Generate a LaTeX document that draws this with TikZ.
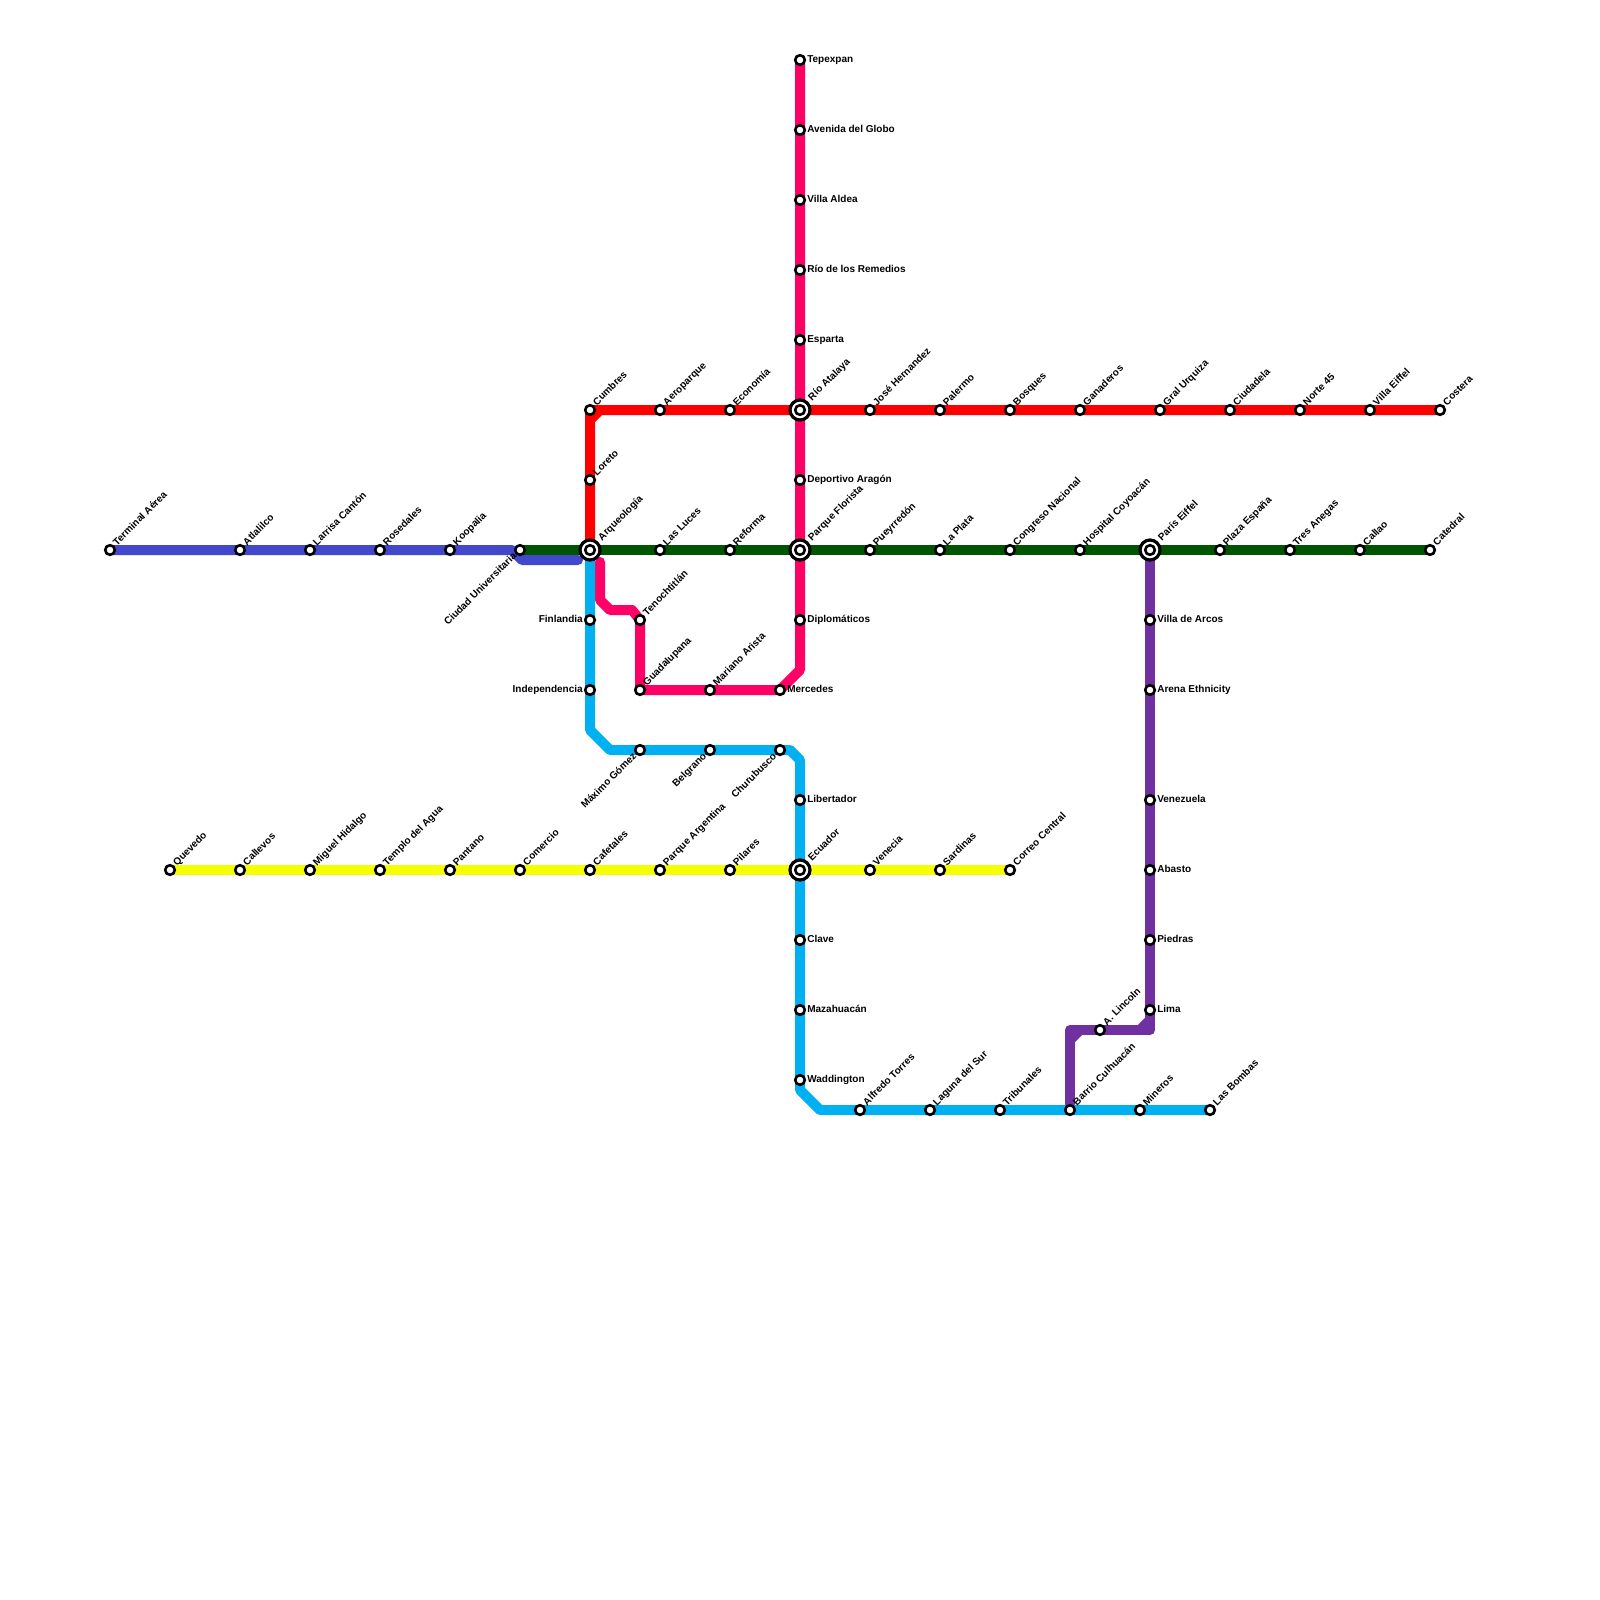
\documentclass[tikz,border=0pt]{standalone}
\usepackage{fontspec}
\setmainfont{Liberation Sans}
\usetikzlibrary{backgrounds}
\definecolor{lred}{HTML}{FF0000}
\definecolor{lpink}{HTML}{FF0066}
\definecolor{lgreen}{HTML}{005500}
\definecolor{lblue}{HTML}{4248CC}
\definecolor{lcyan}{HTML}{00B0F0}
\definecolor{lyellow}{HTML}{F5FF00}
\definecolor{lpurple}{HTML}{7030A0}
\tikzset{
  stn/.style={circle,draw=black,fill=white,line width=2.6pt,minimum size=9.6pt,inner sep=0pt,outer sep=0pt},
  xch/.style={circle,draw=black,fill=white,line width=3.2pt,minimum size=20pt,inner sep=0pt,outer sep=0pt},
  lbl/.style={inner sep=0pt,outer sep=0pt,text=black,font=\fontsize{10}{12}\selectfont\bfseries},
  metro/.style={line width=10pt,line cap=round,line join=round}
}
% name, x, y, label
\newcommand\stNE[4]{\node[stn] (#1) at (#2,#3) {}; \node[lbl,rotate=45,anchor=base west] (#1t) at (#2+7,#3-4) {#4};}
\newcommand\stE[4]{\node[stn] (#1) at (#2,#3) {}; \node[lbl,anchor=base west] (#1t) at (#2+7.3,#3+2.6) {#4};}
\newcommand\stW[4]{\node[stn] (#1) at (#2,#3) {}; \node[lbl,anchor=base east] (#1t) at (#2-7.3,#3+2.6) {#4};}
\newcommand\stSW[4]{\node[stn] (#1) at (#2,#3) {}; \node[lbl,rotate=45,anchor=base east] (#1t) at (#2-3,#3+7) {#4};}
\newcommand\stX[4]{\node[xch] (#1o) at (#2,#3) {}; \node[stn] (#1) at (#2,#3) {}; \node[lbl,rotate=45,anchor=base west] (#1t) at (#2+12,#3-9) {#4};}
\begin{document}
\begin{tikzpicture}[x=1pt,y=-1pt]
\useasboundingbox (0,0) rectangle (1600,1600);
% interchanges
\stX{arq}{590}{550}{Arqueología}
\stX{par}{800}{550}{Parque Florista}
\stX{rio}{800}{410}{Río Atalaya}
\stX{ecu}{800}{870}{Ecuador}
\stX{eif}{1150}{550}{París Eiffel}
% pink line
\stE{tep}{800}{60}{Tepexpan}
\stE{ave}{800}{130}{Avenida del Globo}
\stE{ald}{800}{200}{Villa Aldea}
\stE{rem}{800}{270}{Río de los Remedios}
\stE{esp}{800}{340}{Esparta}
\stE{dep}{800}{480}{Deportivo Aragón}
\stE{dip}{800}{620}{Diplomáticos}
\stE{mer}{780}{690}{Mercedes}
\stNE{mar}{710}{690}{Mariano Arista}
\stNE{gua}{640}{690}{Guadalupana}
\stNE{ten}{640}{620}{Tenochtitlán}
% red line
\stNE{cum}{590}{410}{Cumbres}
\stNE{lor}{590}{480}{Loreto}
\stNE{aer}{660}{410}{Aeroparque}
\stNE{eco}{730}{410}{Economía}
\stNE{jos}{870}{410}{José Hernandez}
\stNE{pal}{940}{410}{Palermo}
\stNE{bos}{1010}{410}{Bosques}
\stNE{gan}{1080}{410}{Ganaderos}
\stNE{gra}{1160}{410}{Gral Urquiza}
\stNE{ciu}{1230}{410}{Ciudadela}
\stNE{nor}{1300}{410}{Norte 45}
\stNE{vil}{1370}{410}{Villa Eiffel}
\stNE{cos}{1440}{410}{Costera}
% blue line
\stNE{ter}{110}{550}{Terminal Aérea}
\stNE{atl}{240}{550}{Atlalilco}
\stNE{lar}{310}{550}{Larrisa Cantón}
\stNE{ros}{380}{550}{Rosedales}
\stNE{koo}{450}{550}{Koopalia}
\stSW{cun}{520}{550}{Ciudad Universitaria}
% green line
\stNE{luc}{660}{550}{Las Luces}
\stNE{ref}{730}{550}{Reforma}
\stNE{pue}{870}{550}{Pueyrredón}
\stNE{pla}{940}{550}{La Plata}
\stNE{con}{1010}{550}{Congreso Nacional}
\stNE{hos}{1080}{550}{Hospital Coyoacán}
\stNE{esa}{1220}{550}{Plaza España}
\stNE{tre}{1290}{550}{Tres Anegas}
\stNE{cal}{1360}{550}{Callao}
\stNE{cat}{1430}{550}{Catedral}
% cyan line
\stW{fin}{590}{620}{Finlandia}
\stW{ind}{590}{690}{Independencia}
\stSW{max}{640}{750}{Máximo Gómez}
\stSW{bel}{710}{750}{Belgrano}
\stSW{chu}{780}{750}{Churubusco}
\stE{lib}{800}{800}{Libertador}
\stE{cla}{800}{940}{Clave}
\stE{maz}{800}{1010}{Mazahuacán}
\stE{wad}{800}{1080}{Waddington}
\stNE{alf}{860}{1110}{Alfredo Torres}
\stNE{lag}{930}{1110}{Laguna del Sur}
\stNE{tri}{1000}{1110}{Tribunales}
\stNE{bar}{1070}{1110}{Barrio Culhuacán}
\stNE{min}{1140}{1110}{Mineros}
\stNE{bom}{1210}{1110}{Las Bombas}
% yellow line
\stNE{que}{170}{870}{Quevedo}
\stNE{cav}{240}{870}{Callevos}
\stNE{mig}{310}{870}{Miguel Hidalgo}
\stNE{tem}{380}{870}{Templo del Agua}
\stNE{pan}{450}{870}{Pantano}
\stNE{com}{520}{870}{Comercio}
\stNE{caf}{590}{870}{Cafetales}
\stNE{pag}{660}{870}{Parque Argentina}
\stNE{pil}{730}{870}{Pilares}
\stNE{ven}{870}{870}{Venecia}
\stNE{sar}{940}{870}{Sardinas}
\stNE{cor}{1010}{870}{Correo Central}
% purple line
\stE{arc}{1150}{620}{Villa de Arcos}
\stE{are}{1150}{690}{Arena Ethnicity}
\stE{vnz}{1150}{800}{Venezuela}
\stE{aba}{1150}{870}{Abasto}
\stE{pie}{1150}{940}{Piedras}
\stE{lim}{1150}{1010}{Lima}
\stNE{lin}{1100}{1030}{A. Lincoln}
% bend points
\coordinate (r1) at (590,420); \coordinate (r2) at (600,410);
\coordinate (r0) at (590,410);
\coordinate (b1) at (512,550); \coordinate (b2) at (522,560); \coordinate (b3) at (578,560);
\coordinate (p0) at (600,562); \coordinate (p1) at (600,600); \coordinate (p2) at (610,610);
\coordinate (p3) at (632,610); \coordinate (p4) at (800,670);
\coordinate (c1) at (590,730); \coordinate (c2) at (610,750); \coordinate (c3) at (790,750);
\coordinate (c4) at (800,760); \coordinate (c5) at (800,1090); \coordinate (c6) at (820,1110);
\coordinate (u1) at (1150,1020); \coordinate (u2) at (1150,1030); \coordinate (u3) at (1140,1030);
\coordinate (u4) at (1080,1030); \coordinate (u5) at (1070,1030); \coordinate (u6) at (1070,1040);
\coordinate (u7) at (1070,1104);
\begin{pgfonlayer}{background}
\fill[white] (0,0) rectangle (1600,1600);
\draw[metro,lpink] (tep.center) -- (par.center) -- (p4) -- (mer.center) -- (gua.center) -- (ten.center) -- (p3) -- (p2) -- (p1) -- (p0);
\draw[metro,lred] (arq.center) -- (r1) -- (r2) -- (cos.center);
\draw[metro,lred] (r1) -- (r0) -- (r2);
\draw[metro,lpurple] (eif.center) -- (u2) -- (u5) -- (u7);
\draw[metro,lpurple,line cap=butt] (u1) -- (u3);
\draw[metro,lpurple,line cap=butt] (u6) -- (u4);
\draw[metro,lcyan] (arq.center) -- (c1) -- (c2) -- (c3) -- (c4) -- (c5) -- (c6) -- (bom.center);
\draw[metro,lgreen] (cun.center) -- (cat.center);
\draw[metro,lblue] (ter.center) -- (b1) -- (b2) -- (b3);
\draw[metro,lyellow] (que.center) -- (cor.center);
\end{pgfonlayer}
\end{tikzpicture}
\end{document}
